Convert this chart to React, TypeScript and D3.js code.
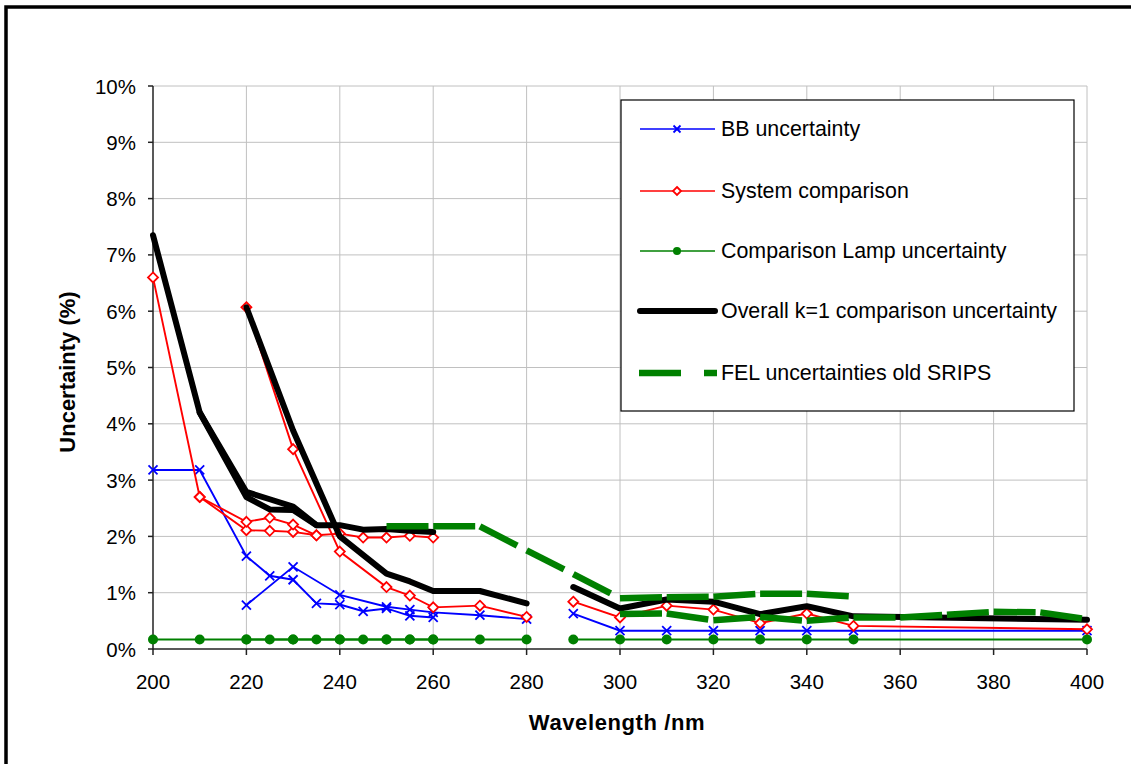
import React from "react";
import * as d3 from "d3";

// ---- data (wavelength in nm, uncertainty in %) ----
const xTicks = [200, 220, 240, 260, 280, 300, 320, 340, 360, 380, 400];
const yTicks = [0, 1, 2, 3, 4, 5, 6, 7, 8, 9, 10];

const wlA = [200, 210, 220, 225, 230, 235, 240, 245, 250, 255, 260];
const wlLoop = [210, 220, 225, 230, 235];
const wlB = [220, 230, 240, 250, 255, 260, 270, 280];
const wlC = [290, 300, 310, 320, 330, 340, 350, 400];
const wlFelA = [250, 260, 270, 280, 290, 300, 310, 320, 330, 340, 350];
const wlFelB = [300, 310, 320, 330, 340, 350, 360, 370, 380, 390, 400];

const bbA = [3.18, 3.18, 1.65, 1.3, 1.23, 0.81, 0.79, 0.67, 0.72, 0.59, 0.56];
const bbB = [0.78, 1.46, 0.96, 0.75, 0.7, 0.65, 0.6, 0.53];
const bbC = [0.63, 0.325, 0.325, 0.325, 0.325, 0.325, 0.325, 0.325];

const sysA = [6.6, 2.7, 2.11, 2.1, 2.08, 2.02, 2.05, 1.98, 1.98, 2.01, 1.98];
const sysLoop = [2.7, 2.26, 2.33, 2.21, 2.02];
const sysB = [6.07, 3.55, 1.73, 1.1, 0.95, 0.74, 0.77, 0.57];
const sysC = [0.84, 0.56, 0.77, 0.7, 0.46, 0.63, 0.41, 0.35];

const lampA = [0.17, 0.17, 0.17, 0.17, 0.17, 0.17, 0.17, 0.17, 0.17, 0.17, 0.17];
const lampB = [0.17, 0.17, 0.17, 0.17, 0.17, 0.17, 0.17, 0.17];
const lampC = [0.17, 0.17, 0.17, 0.17, 0.17, 0.17, 0.17, 0.17];

const ovA = [7.35, 4.2, 2.79, 2.66, 2.53, 2.2, 2.2, 2.12, 2.13, 2.1, 2.08];
const ovLoop = [4.2, 2.7, 2.48, 2.47, 2.2];
const ovB = [6.07, 3.88, 2.0, 1.34, 1.2, 1.03, 1.03, 0.81];
const ovC = [1.1, 0.72, 0.88, 0.84, 0.62, 0.76, 0.58, 0.52];

const felA = [2.18, 2.18, 2.18, 1.75, 1.33, 0.9, 0.92, 0.93, 0.98, 0.98, 0.93];
const felB = [0.62, 0.63, 0.51, 0.57, 0.5, 0.56, 0.56, 0.61, 0.66, 0.65, 0.53];

const legendLabels = [
  "BB uncertainty",
  "System comparison",
  "Comparison Lamp uncertainty",
  "Overall k=1 comparison uncertainty",
  "FEL uncertainties old SRIPS",
];

const FONT = "'Liberation Sans', Arial, sans-serif";
const BLUE = "#0000ff";
const RED = "#ff0000";
const GREEN = "#008000";

type Pt = [number, number];
const zip = (xs: number[], ys: number[]): Pt[] => xs.map((x, i) => [x, ys[i]] as Pt);

const x = d3.scaleLinear().domain([200, 400]).range([153, 1087]);
const y = d3.scaleLinear().domain([0, 10]).range([649, 86]);
const line = d3.line<Pt>().x((d) => x(d[0])).y((d) => y(d[1]));

function XMark({ cx, cy, s = 4.5, color }: { cx: number; cy: number; s?: number; color: string }) {
  return (
    <g stroke={color} strokeWidth={1.8}>
      <line x1={cx - s} y1={cy - s} x2={cx + s} y2={cy + s} />
      <line x1={cx - s} y1={cy + s} x2={cx + s} y2={cy - s} />
    </g>
  );
}
function Diamond({ cx, cy, s = 5, color }: { cx: number; cy: number; s?: number; color: string }) {
  return (
    <polygon
      points={`${cx},${cy - s} ${cx + s},${cy} ${cx},${cy + s} ${cx - s},${cy}`}
      fill="white"
      stroke={color}
      strokeWidth={1.8}
    />
  );
}
function Dot({ cx, cy, r = 5, color }: { cx: number; cy: number; r?: number; color: string }) {
  return <circle cx={cx} cy={cy} r={r} fill={color} />;
}

export default function App() {
  const bbPaths = [zip(wlA, bbA), zip(wlB, bbB), zip(wlC, bbC)];
  const sysPaths = [zip(wlA, sysA), zip(wlLoop, sysLoop), zip(wlB, sysB), zip(wlC, sysC)];
  const lampPaths = [zip(wlA, lampA), zip(wlB, lampB), zip(wlC, lampC)];
  const ovPaths = [zip(wlA, ovA), zip(wlLoop, ovLoop), zip(wlB, ovB), zip(wlC, ovC)];
  const felPaths = [zip(wlFelA, felA), zip(wlFelB, felB)];

  const legendY = [129, 191, 251, 311, 373];

  return (
    <svg
      width={1131}
      height={764}
      style={{ position: "absolute", left: 0, top: 0, background: "white" }}
      fontFamily={FONT}
    >
      <rect x={0} y={0} width={1131} height={764} fill="white" />
      {/* outer frame */}
      <rect x={6} y={7} width={1200} height={800} fill="none" stroke="#000" strokeWidth={3.5} />

      {/* gridlines */}
      <g stroke="#c0c0c0" strokeWidth={1}>
        {yTicks.slice(1).map((t) => (
          <line key={"gy" + t} x1={x(200)} x2={x(400)} y1={y(t)} y2={y(t)} />
        ))}
        {xTicks.slice(1).map((t) => (
          <line key={"gx" + t} x1={x(t)} x2={x(t)} y1={y(0)} y2={y(10)} />
        ))}
      </g>

      {/* axes */}
      <g stroke="#222" strokeWidth={1.5}>
        <line x1={x(200)} x2={x(200)} y1={y(0) + 0.5} y2={y(10)} />
        <line x1={x(200)} x2={x(400)} y1={y(0)} y2={y(0)} />
        {yTicks.map((t) => (
          <line key={"ty" + t} x1={x(200) - 5} x2={x(200)} y1={y(t)} y2={y(t)} />
        ))}
        {xTicks.map((t) => (
          <line key={"tx" + t} x1={x(t)} x2={x(t)} y1={y(0)} y2={y(0) + 6} />
        ))}
      </g>
      <g fontSize={20.5} fill="#000">
        {yTicks.map((t) => (
          <text key={"ly" + t} x={136} y={y(t)} textAnchor="end" dominantBaseline="central">
            {t + "%"}
          </text>
        ))}
        {xTicks.map((t) => (
          <text key={"lx" + t} x={x(t)} y={681} textAnchor="middle" dominantBaseline="central">
            {t}
          </text>
        ))}
      </g>
      <text
        x={617}
        y={722}
        textAnchor="middle"
        dominantBaseline="central"
        fontSize={22}
        fontWeight="bold"
        letterSpacing={0.6}
      >
        Wavelength /nm
      </text>
      <text
        transform={`translate(67,372) rotate(-90)`}
        textAnchor="middle"
        dominantBaseline="central"
        fontSize={22}
        fontWeight="bold"
      >
        Uncertainty (%)
      </text>

      {/* BB uncertainty */}
      <g>
        {bbPaths.map((p, i) => (
          <path key={"bb" + i} d={line(p) || ""} fill="none" stroke={BLUE} strokeWidth={1.9} />
        ))}
        {bbPaths.flat().map((d, i) => (
          <XMark key={"bbm" + i} cx={x(d[0])} cy={y(d[1])} color={BLUE} />
        ))}
      </g>

      {/* System comparison */}
      <g>
        {sysPaths.map((p, i) => (
          <path key={"sy" + i} d={line(p) || ""} fill="none" stroke={RED} strokeWidth={1.9} />
        ))}
        {sysPaths.flat().map((d, i) => (
          <Diamond key={"sym" + i} cx={x(d[0])} cy={y(d[1])} color={RED} />
        ))}
      </g>

      {/* Lamp */}
      <g>
        {lampPaths.map((p, i) => (
          <path key={"la" + i} d={line(p) || ""} fill="none" stroke={GREEN} strokeWidth={1.9} />
        ))}
        {lampPaths.flat().map((d, i) => (
          <Dot key={"lam" + i} cx={x(d[0])} cy={y(d[1])} color={GREEN} />
        ))}
      </g>

      {/* Overall */}
      <g>
        {ovPaths.map((p, i) => (
          <path
            key={"ov" + i}
            d={line(p) || ""}
            fill="none"
            stroke="#000"
            strokeWidth={6}
            strokeLinejoin="round"
            strokeLinecap="round"
          />
        ))}
      </g>

      {/* FEL dashed: dash pattern restarts on each segment */}
      <g>
        {felPaths.map((p, i) =>
          d3.pairs(p).map((seg, j) => (
            <path
              key={"fel" + i + "-" + j}
              d={line(seg) || ""}
              fill="none"
              stroke={GREEN}
              strokeWidth={6.5}
              strokeDasharray="42 23"
              strokeLinecap="butt"
            />
          ))
        )}
      </g>

      {/* legend */}
      <rect x={621} y={100} width={453} height={311} fill="white" stroke="#000" strokeWidth={1.2} />
      <g>
        <line x1={640} x2={715} y1={legendY[0]} y2={legendY[0]} stroke={BLUE} strokeWidth={1.6} />
        <XMark cx={677} cy={legendY[0]} s={3.5} color={BLUE} />
        <line x1={640} x2={715} y1={legendY[1]} y2={legendY[1]} stroke={RED} strokeWidth={1.6} />
        <Diamond cx={677} cy={legendY[1]} s={4} color={RED} />
        <line x1={640} x2={715} y1={legendY[2]} y2={legendY[2]} stroke={GREEN} strokeWidth={1.6} />
        <Dot cx={677} cy={legendY[2]} r={4} color={GREEN} />
        <line x1={640} x2={715} y1={legendY[3]} y2={legendY[3]} stroke="#000" strokeWidth={6} strokeLinecap="round" />
        <line
          x1={639}
          x2={717}
          y1={legendY[4]}
          y2={legendY[4]}
          stroke={GREEN}
          strokeWidth={6.5}
          strokeDasharray="42 23"
        />
        {legendLabels.map((l, i) => (
          <text key={"lg" + i} x={721} y={legendY[i]} fontSize={21.4} dominantBaseline="central" fill="#000">
            {l}
          </text>
        ))}
      </g>
    </svg>
  );
}
